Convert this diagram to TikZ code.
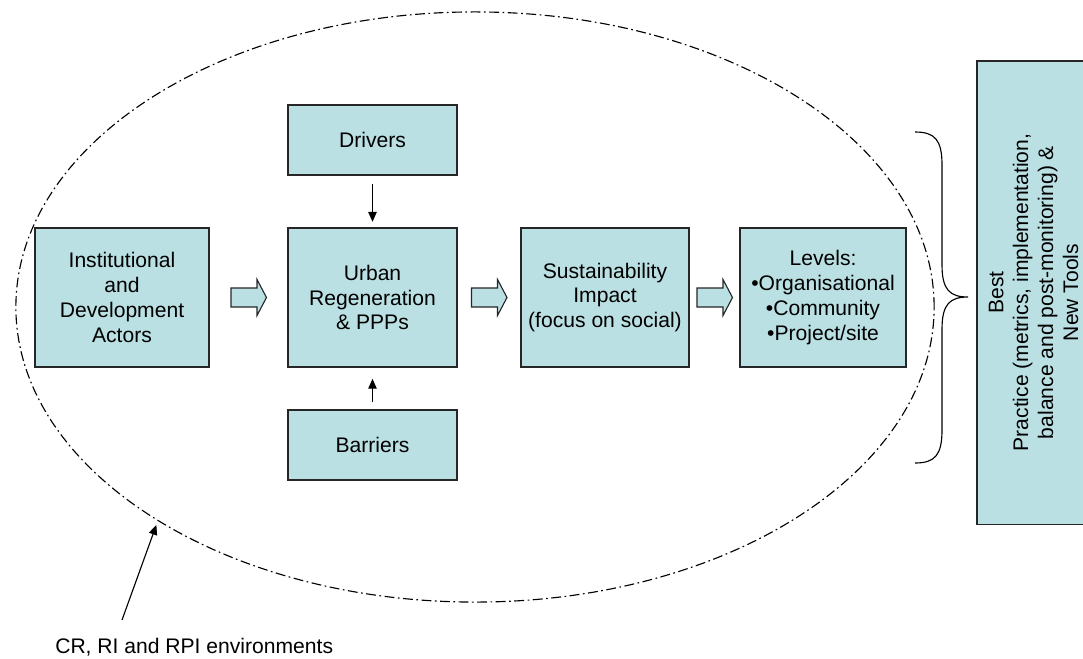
\documentclass[tikz,border=0pt]{standalone}
\usepackage{fontspec}
\setmainfont{Liberation Sans}
\usepackage{tikz}
\usetikzlibrary{arrows.meta, shapes.geometric, calc}
\definecolor{boxfill}{RGB}{187,224,227}
\tikzset{
  stagebox/.style={draw=black!85, line width=0.8pt, fill=boxfill, align=center, inner sep=2pt},
  fatarrowline/.style={draw=black!85, line width=0.8pt, fill=boxfill},
  pointer/.style={-{Triangle[length=7pt,width=6pt]}, line width=0.8pt},
  envline/.style={draw, line width=0.8pt, dash pattern=on 7pt off 2.5pt on 1.2pt off 2.5pt},
}
% hollow block arrow centred at a point
\newcommand{\fatarrow}[1]{%
  \draw[fatarrowline] (#1) ++(-17.5,-9.5) -- ++(26,0) -- ++(0,-8.5) -- ++(9.5,18)
    -- ++(-9.5,18) -- ++(0,-8.5) -- ++(-26,0) -- cycle;}

\begin{document}
\begin{tikzpicture}[x=0.025cm, y=-0.025cm, font=\fontsize{15}{17.7}\selectfont]
        \clip (0,0) rectangle (1083,658);
        % Environment
        \node [envline, ellipse, minimum width=22.95cm, minimum height=14.75cm, inner sep=0] (env) at (475,307) {};
        % Boxes
        \node [stagebox, minimum width=4.35cm, minimum height=3.475cm] (inst) at (122,297.5) {Institutional\\and\\Development\\Actors};
        \node [stagebox, minimum width=4.225cm, minimum height=3.475cm] (urban) at (372.5,297.5) {Urban\\Regeneration\\\& PPPs};
        \node [stagebox, minimum width=4.225cm, minimum height=1.75cm] (drivers) at (372.5,140) {Drivers};
        \node [stagebox, minimum width=4.225cm, minimum height=1.75cm] (barriers) at (372.5,445) {Barriers};
        \node [stagebox, minimum width=4.2cm, minimum height=3.475cm] (sust) at (605,297.5) {Sustainability\\Impact\\(focus on social)};
        \node [stagebox, minimum width=4.15cm, minimum height=3.475cm] (levels) at (823,297.5) {Levels:\\\textbullet Organisational\\\textbullet Community\\\textbullet Project/site};
        \node [stagebox, rotate=90, minimum width=11.575cm, minimum height=2.825cm] (best) at (1033.5,292.5) {Best\\Practice (metrics, implementation,\\balance and post-monitoring) \&\\New Tools};
        % Block arrows
        \fatarrow{$(inst.east)!0.5!(urban.west)$}
        \fatarrow{$(urban.east)!0.5!(sust.west)$}
        \fatarrow{$(sust.east)!0.5!(levels.west)$}
        % Small arrows
        \draw [pointer, shorten <=6pt, shorten >=4pt] (drivers) -- (urban);
        \draw [pointer, shorten <=5pt, shorten >=8pt] (barriers) -- (urban);
        % Brace
        \draw [line width=0.8pt] (915,132) .. controls (935,132) and (942,140) .. (942,165) -- (942,265)
            .. controls (942,290) and (950,297) .. (968,297)
            .. controls (950,297) and (942,304) .. (942,329) -- (942,430)
            .. controls (942,455) and (935,463) .. (915,463);
        % Label
        \node [anchor=west, inner sep=0] (envlabel) at (55,647) {CR, RI and RPI environments};
        \coordinate (labeltail) at (122,620);
        \draw [pointer, shorten >=3pt] (labeltail) -- (env.214);
\end{tikzpicture}
\end{document}
